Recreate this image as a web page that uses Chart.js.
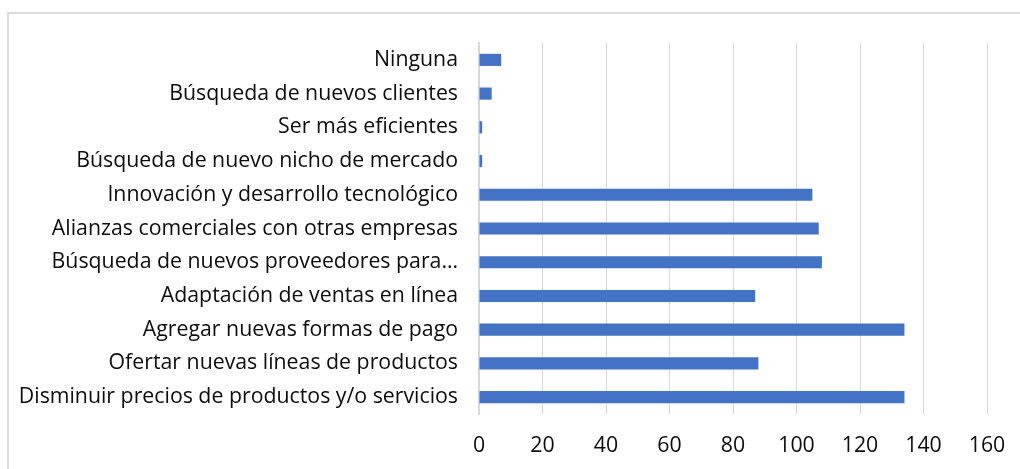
<!DOCTYPE html>
<html>
<head>
<meta charset="utf-8">
<script src="https://cdn.jsdelivr.net/npm/chart.js@4.4.1/dist/chart.umd.min.js"></script>
<style>
  html, body { margin: 0; padding: 0; background: #ffffff; overflow: hidden; }
  #wrap { position: relative; width: 1020px; height: 469px; }
  #frame {
    position: absolute; left: 7px; top: 12px; width: 1100px; height: 600px;
    border: 2px solid #dcdcdc;
  }
  #chart { position: absolute; left: 0; top: 0; }
</style>
</head>
<body>
<div id="wrap">
  <div id="frame"></div>
  <canvas id="chart" width="1020" height="469"></canvas>
</div>
<script>
let categories = [
  "Ninguna",
  "Búsqueda de nuevos clientes",
  "Ser más eficientes",
  "Búsqueda de nuevo nicho de mercado",
  "Innovación y desarrollo tecnológico",
  "Alianzas comerciales con otras empresas",
  "Búsqueda de nuevos proveedores para…",
  "Adaptación de ventas en línea",
  "Agregar nuevas formas de pago",
  "Ofertar nuevas líneas de productos",
  "Disminuir precios de productos y/o servicios"
];
let values = [7, 4, 1, 1, 105, 107, 108, 87, 134, 88, 134];
let xTicks = [0, 20, 40, 60, 80, 100, 120, 140, 160];

let fontFamily = "'Open Sans', Lato, sans-serif";
let labelSize = 21.3;

let ctx = document.getElementById("chart").getContext("2d");
let myChart = new Chart(ctx, {
  type: "bar",
  data: {
    labels: categories,
    datasets: [
      {
        data: values,
        backgroundColor: "#4472c4",
        borderWidth: 0,
        categoryPercentage: 1,
        barPercentage: 0.36,
      },
    ],
  },
  options: {
    indexAxis: "y",
    responsive: false,
    animation: false,
    layout: { padding: { left: 0, right: 33, top: 43, bottom: 0 } },
    plugins: {
      legend: { display: false },
      tooltip: { enabled: false },
    },
    scales: {
      x: {
        min: 0,
        max: 160,
        afterBuildTicks: function (scale) {
          scale.ticks = xTicks.map((v) => ({ value: v }));
        },
        afterFit: function (scale) {
          scale.height = 55;
          scale.paddingLeft = 0;
          scale.paddingRight = 0;
        },
        grid: { color: "#d9d9d9", lineWidth: 1, drawTicks: false },
        border: { display: false },
        ticks: {
          color: "#0d0d0d",
          padding: 19,
          font: { family: fontFamily, size: labelSize },
        },
      },
      y: {
        afterFit: function (scale) {
          scale.width = 479;
        },
        grid: { display: false, drawTicks: false },
        border: { display: true, color: "#d9d9d9", width: 2 },
        ticks: {
          color: "#0d0d0d",
          padding: 21,
          autoSkip: false,
          font: { family: fontFamily, size: labelSize },
        },
      },
    },
  },
});
</script>
</body>
</html>
